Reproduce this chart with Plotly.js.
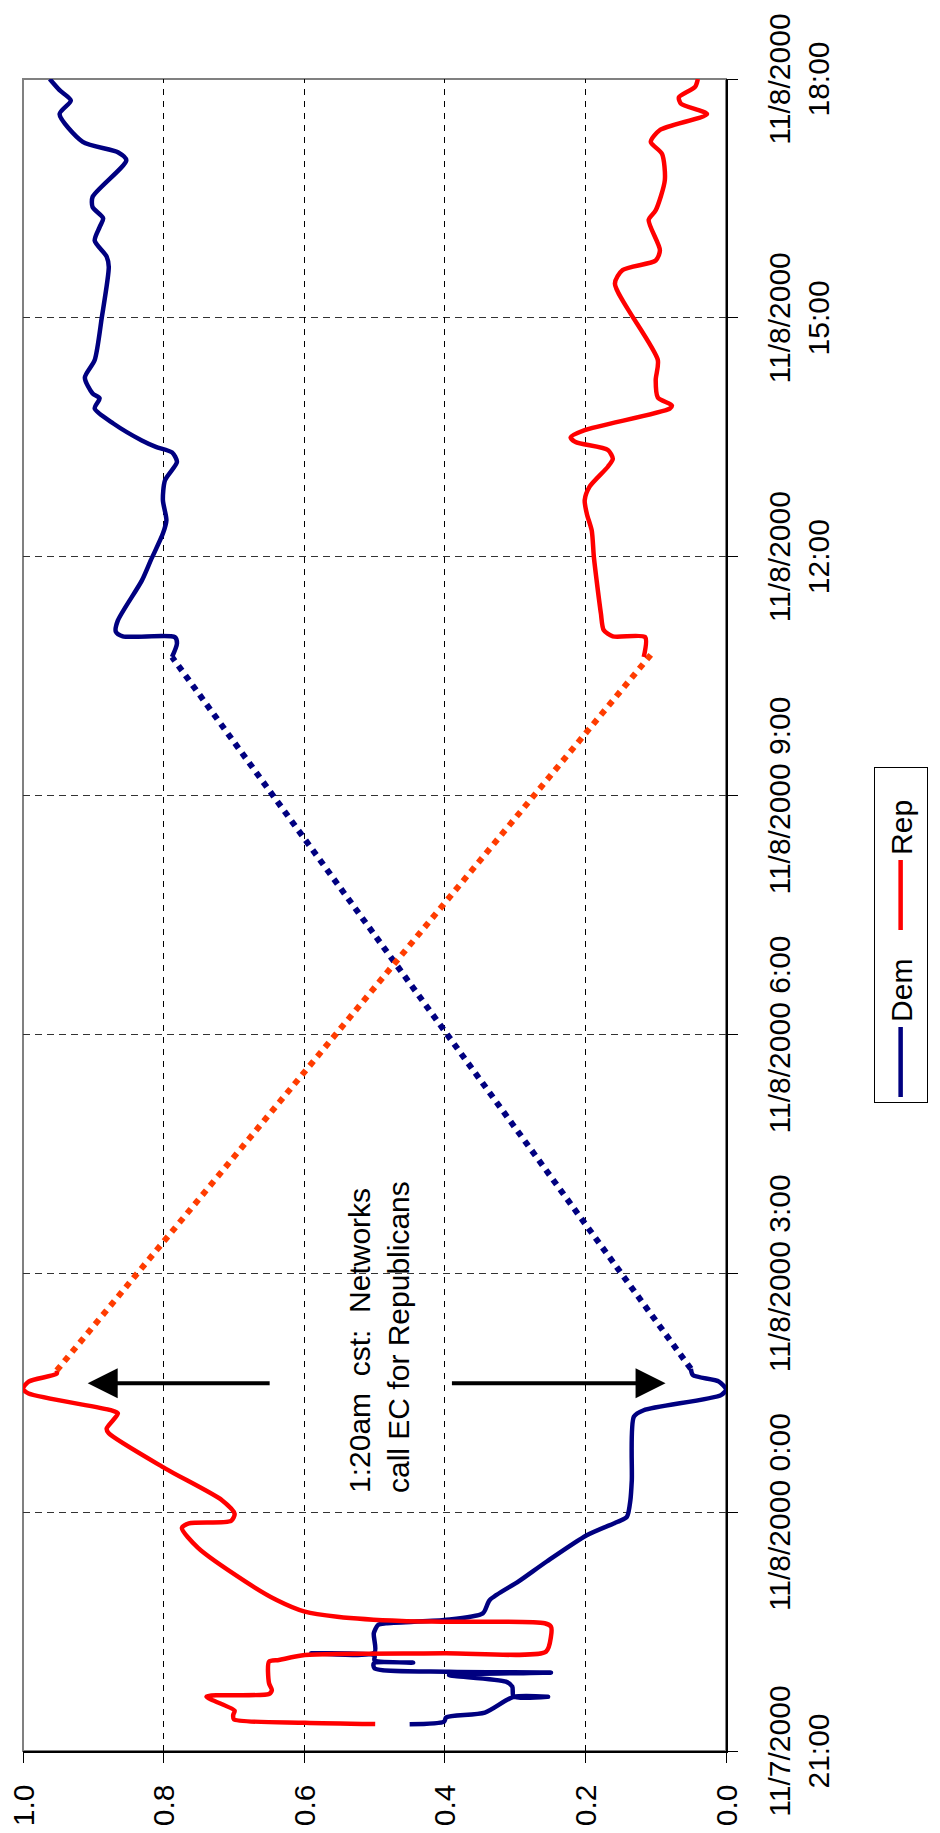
<!DOCTYPE html>
<html>
<head>
<meta charset="utf-8">
<script src="https://cdn.plot.ly/plotly-3.0.1.min.js"></script>
<style>
  html, body { margin: 0; padding: 0; background: #fff; }
  body { width: 940px; height: 1833px; overflow: hidden; position: relative; }
  #wrap { position: absolute; left: 0; top: 0; width: 1833px; height: 940px;
          transform-origin: 0 0; transform: translateY(1833px) rotate(-90deg); }
</style>
</head>
<body>
<div id="wrap"><div id="chart" style="width:1833px;height:940px;"></div></div>
<script>
// Time in hours after 11/7/2000 21:00 ; value = market price
const tickHours = [0, 3, 6, 9, 12, 15, 18, 21];
const tickLabels = ["11/7/2000<br>21:00", "11/8/2000 0:00", "11/8/2000 3:00", "11/8/2000 6:00",
                    "11/8/2000 9:00", "11/8/2000<br>12:00", "11/8/2000<br>15:00", "11/8/2000<br>18:00"];

// Dem – before the gap
const demT1 = [0.335,0.368,0.423,0.482,0.680,0.681,0.683,0.808,0.871,0.954,0.984,0.995,1.038,1.101,1.110,1.140,1.200,1.227,1.235,1.478,1.583,1.604,1.645,1.729,1.897,2.13,2.38,2.71,2.88,2.94,3.15,3.40,4.20,4.28,4.47,4.54,4.64,4.72,4.80];
const demV1 = [0.450,0.401,0.398,0.343,0.302,0.253,0.302,0.304,0.313,0.394,0.249,0.394,0.500,0.501,0.445,0.500,0.500,0.590,0.500,0.501,0.495,0.484,0.401,0.346,0.336,0.295,0.255,0.198,0.154,0.141,0.136,0.134,0.131,0.117,0.007,0.000,0.010,0.047,0.050];
// Dem – after the gap
const demT2 = [13.74,13.91,13.99,14.00,14.06,14.20,14.70,14.96,15.29,15.46,15.71,15.96,16.19,16.31,16.38,16.46,16.67,16.86,16.99,17.05,17.25,17.47,18.00,18.64,18.77,18.97,19.14,19.25,19.39,19.52,19.98,20.08,20.21,20.56,20.73,20.86,21.00];
const demV2 = [0.788,0.781,0.784,0.858,0.868,0.865,0.831,0.818,0.801,0.796,0.801,0.798,0.781,0.788,0.811,0.831,0.871,0.898,0.891,0.901,0.912,0.898,0.888,0.878,0.881,0.898,0.891,0.886,0.901,0.901,0.853,0.865,0.915,0.948,0.932,0.948,0.962];
// Dem – gap (dotted)
const demGapT = [4.80, 13.74];
const demGapV = [0.050, 0.788];

// Rep – before the gap
const repT1 = [0.339,0.356,0.398,0.452,0.507,0.683,0.716,0.766,0.850,1.122,1.143,1.206,1.227,1.248,1.436,1.562,1.604,1.624,1.633,1.687,1.750,1.900,2.13,2.55,2.80,2.86,2.89,2.98,3.15,3.55,3.99,4.05,4.24,4.28,4.49,4.55,4.64,4.74,4.78];
const repV1 = [0.499,0.599,0.700,0.701,0.699,0.739,0.650,0.646,0.650,0.650,0.636,0.599,0.401,0.256,0.249,0.249,0.258,0.401,0.461,0.553,0.599,0.640,0.684,0.751,0.774,0.764,0.704,0.699,0.717,0.798,0.878,0.881,0.865,0.875,0.992,1.000,0.992,0.952,0.952];
// Rep – after the gap
const repT2 = [13.74,13.99,14.00,14.08,14.29,14.70,15.00,15.33,15.54,15.71,15.88,16.13,16.23,16.34,16.44,16.50,16.59,16.86,16.90,17.00,17.22,17.47,18.43,18.60,18.72,18.85,19.23,19.35,19.73,20.06,20.21,20.36,20.56,20.69,20.77,20.90,21.00];
const repV2 = [0.117,0.115,0.161,0.174,0.178,0.184,0.188,0.191,0.198,0.201,0.194,0.168,0.161,0.168,0.214,0.221,0.201,0.080,0.077,0.097,0.100,0.097,0.158,0.147,0.100,0.094,0.110,0.100,0.087,0.091,0.107,0.094,0.027,0.064,0.067,0.044,0.040];
// Rep – gap (dotted)
const repGapT = [4.78, 13.80];
const repGapV = [0.952, 0.104];

// Annotation
const noteText = "1:20am\u00a0\u00a0cst:\u00a0\u00a0Networks<br>call EC for Republicans";
const noteT = 3.21, noteV = 0.493;
const arrowT = 4.62;
const arrowUp = [0.647, 0.908];   // tail, head
const arrowDown = [0.392, 0.086]; // tail, head

const DEM = "#000080", REP = "#ff0000", REP_DOT = "#ff3c00";
const FONT = "Liberation Sans, Arial, sans-serif";
const SOLID = {width: 4.5, shape: "spline", smoothing: 0.7};

const traces = [
  {x: demT1, y: demV1, name: "Dem", mode: "lines", line: Object.assign({color: DEM}, SOLID)},
  {x: repT1, y: repV1, name: "Rep", mode: "lines", line: Object.assign({color: REP}, SOLID)},
  {x: demGapT, y: demGapV, name: "Dem", mode: "lines", showlegend: false, line: {color: DEM, width: 6, dash: "6px,6px"}},
  {x: repGapT, y: repGapV, name: "Rep", mode: "lines", showlegend: false, line: {color: REP_DOT, width: 6, dash: "6px,6px"}},
  {x: demT2, y: demV2, name: "Dem", mode: "lines", showlegend: false, line: Object.assign({color: DEM}, SOLID)},
  {x: repT2, y: repV2, name: "Rep", mode: "lines", showlegend: false, line: Object.assign({color: REP}, SOLID)}
];

const layout = {
  width: 1833, height: 940,
  margin: {l: 82, r: 79, t: 23, b: 194, pad: 0},
  paper_bgcolor: "#fff", plot_bgcolor: "#fff",
  font: {family: FONT, size: 30, color: "#000"},
  showlegend: true,
  legend: {orientation: "h", x: 0.3876, xanchor: "left", y: -0.21, yanchor: "top",
           bordercolor: "#000", borderwidth: 1, bgcolor: "#fff",
           itemwidth: 70, entrywidth: 82, entrywidthmode: "pixels",
           font: {family: FONT, size: 30, color: "#000"}, traceorder: "normal"},
  xaxis: {range: [0, 21], tickmode: "array", tickvals: tickHours, ticktext: tickLabels,
          tickangle: 0, ticks: "outside", ticklen: 10, tickcolor: "#000", tickwidth: 1,
          showgrid: true, gridcolor: "#333", gridwidth: 1, griddash: "7px,5px",
          showline: true, linecolor: "#000", linewidth: 1.5, zeroline: false,
          ticklabelstandoff: 16, tickfont: {family: FONT, size: 30, color: "#000"}},
  yaxis: {range: [0, 1], tickmode: "linear", tick0: 0, dtick: 0.2, tickformat: ".1f",
          ticks: "outside", ticklen: 10, tickcolor: "#000", tickwidth: 1,
          showgrid: true, gridcolor: "#000", gridwidth: 1, griddash: "6px,6px",
          showline: true, linecolor: "#000", linewidth: 1.5, zeroline: false,
          ticklabelstandoff: 16, tickfont: {family: FONT, size: 30, color: "#000"}},
  shapes: [
    {type: "rect", xref: "paper", yref: "paper", x0: 0, x1: 1, y0: 0, y1: 1,
     line: {color: "#808080", width: 2}, layer: "below"}
  ],
  annotations: [
    {x: noteT, y: noteV, xref: "x", yref: "y", text: noteText, showarrow: false,
     xanchor: "left", yanchor: "middle", align: "left",
     font: {family: FONT, size: 30, color: "#000"}},
    {x: arrowT, y: arrowUp[1], ax: arrowT, ay: arrowUp[0], xref: "x", yref: "y", axref: "x", ayref: "y",
     text: "", showarrow: true, arrowhead: 2, arrowsize: 1.5, arrowwidth: 4, arrowcolor: "#000"},
    {x: arrowT, y: arrowDown[1], ax: arrowT, ay: arrowDown[0], xref: "x", yref: "y", axref: "x", ayref: "y",
     text: "", showarrow: true, arrowhead: 2, arrowsize: 1.5, arrowwidth: 4, arrowcolor: "#000"}
  ]
};

Plotly.newPlot("chart", traces, layout, {staticPlot: true, displayModeBar: false});
</script>
</body>
</html>
